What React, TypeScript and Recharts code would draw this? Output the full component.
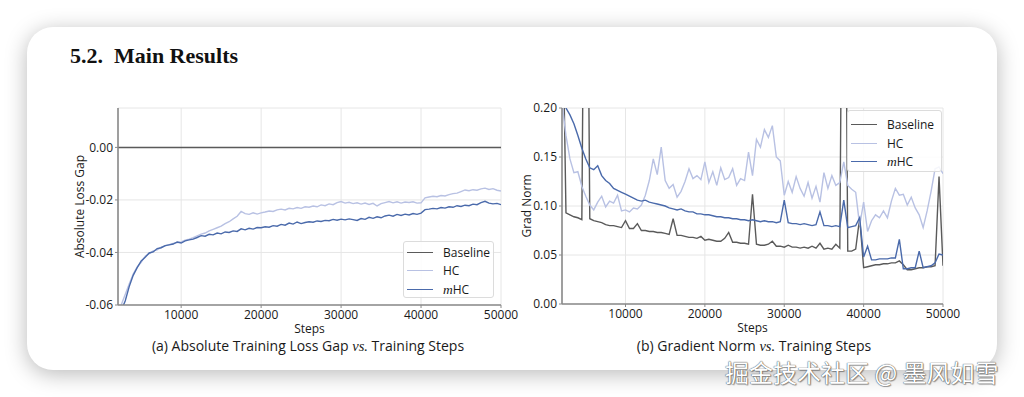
import { CartesianGrid, Line, LineChart, XAxis, YAxis } from "recharts";

// training steps shared by both panels
const steps = [
  2000, 2500, 3000, 3500, 4000, 4500, 5000, 5500, 6000, 6500,
  7000, 7500, 8000, 8500, 9000, 9500, 10000, 10500, 11000, 11500,
  12000, 12500, 13000, 13500, 14000, 14500, 15000, 15500, 16000, 16500,
  17000, 17500, 18000, 18500, 19000, 19500, 20000, 20500, 21000, 21500,
  22000, 22500, 23000, 23500, 24000, 24500, 25000, 25500, 26000, 26500,
  27000, 27500, 28000, 28500, 29000, 29500, 30000, 30500, 31000, 31500,
  32000, 32500, 33000, 33500, 34000, 34500, 35000, 35500, 36000, 36500,
  37000, 37500, 38000, 38500, 39000, 39500, 40000, 40500, 41000, 41500,
  42000, 42500, 43000, 43500, 44000, 44500, 45000, 45500, 46000, 46500,
  47000, 47500, 48000, 48500, 49000, 49500, 50000,
];

// (a) absolute loss gap vs baseline
const lossHC = [
  -0.07, -0.06, -0.056, -0.052, -0.0482, -0.0455, -0.0438, -0.0414, -0.0405, -0.0394,
  -0.039, -0.038, -0.0375, -0.037, -0.0366, -0.0362, -0.036, -0.0353, -0.0349, -0.0344,
  -0.0337, -0.033, -0.0326, -0.0318, -0.0312, -0.0306, -0.03, -0.029, -0.0283, -0.0272,
  -0.0262, -0.0244, -0.0252, -0.0255, -0.0249, -0.0254, -0.0249, -0.0246, -0.0242, -0.0244,
  -0.0238, -0.0235, -0.0238, -0.0232, -0.0234, -0.0229, -0.0232, -0.0226, -0.0228, -0.0223,
  -0.0226, -0.0219, -0.0222, -0.0215, -0.0218, -0.021, -0.0206, -0.0212, -0.0209, -0.0214,
  -0.0211, -0.0216, -0.0212, -0.0217, -0.0213, -0.0223, -0.0214, -0.021, -0.0206, -0.0211,
  -0.0207, -0.0212, -0.0208, -0.021, -0.0207, -0.0212, -0.0211, -0.0192, -0.0189, -0.0186,
  -0.0188, -0.0183, -0.0185, -0.018, -0.0176, -0.0174, -0.0168, -0.0162, -0.0165, -0.0161,
  -0.0163, -0.0158, -0.0155, -0.016, -0.0157, -0.0163, -0.0166,
];
const lossMHC = [
  -0.072, -0.062, -0.0585, -0.053, -0.0487, -0.0458, -0.0432, -0.0418, -0.0402, -0.0398,
  -0.0385, -0.0382, -0.0374, -0.0371, -0.0368, -0.036, -0.0364, -0.0356, -0.0352, -0.0349,
  -0.0343, -0.0336, -0.0338, -0.0331, -0.0333, -0.0326, -0.0329, -0.0322, -0.0324, -0.0318,
  -0.032, -0.031, -0.0314, -0.0308, -0.0311, -0.0305, -0.0306, -0.0302, -0.0304, -0.0298,
  -0.03, -0.0293, -0.0296, -0.0288, -0.0292, -0.0284, -0.029, -0.0286, -0.0283, -0.0285,
  -0.028, -0.0282, -0.0278, -0.0279, -0.0274, -0.0277, -0.0273, -0.0276, -0.0272, -0.0275,
  -0.0278, -0.0271, -0.0274, -0.0266, -0.027, -0.0264, -0.0268, -0.0261, -0.0258, -0.0262,
  -0.0255, -0.0259, -0.0254, -0.0257, -0.0252, -0.0255, -0.025, -0.0237, -0.0235, -0.0232,
  -0.0234, -0.0229, -0.0231, -0.0226, -0.0228, -0.0222, -0.0225, -0.022, -0.0222, -0.0216,
  -0.0218, -0.021, -0.0205, -0.0212, -0.0215, -0.0213, -0.0218,
];
const lossBaselineSteps = [2000, 50000];
const lossBaseline = [0, 0];
const lossTicks = [-0.06, -0.04, -0.02, 0];

// (b) gradient norm
const gradBaseline = [
  0.35, 0.093, 0.091, 0.089, 0.088, 0.086, 0.62, 0.087, 0.085, 0.084,
  0.083, 0.081, 0.08, 0.08, 0.079, 0.078, 0.085, 0.077, 0.077, 0.082,
  0.075, 0.075, 0.074, 0.074, 0.073, 0.073, 0.072, 0.071, 0.087, 0.07,
  0.07, 0.069, 0.068, 0.068, 0.067, 0.069, 0.065, 0.066, 0.065, 0.064,
  0.064, 0.067, 0.073, 0.063, 0.063, 0.062, 0.062, 0.061, 0.112, 0.061,
  0.06, 0.06, 0.061, 0.064, 0.059, 0.059, 0.058, 0.06, 0.058, 0.058,
  0.057, 0.058, 0.057, 0.059, 0.057, 0.062, 0.056, 0.057, 0.056, 0.061,
  0.057, 0.62, 0.054, 0.054, 0.056, 0.088, 0.037, 0.038, 0.039, 0.04,
  0.04, 0.041, 0.041, 0.042, 0.042, 0.044, 0.04, 0.035, 0.035, 0.036,
  0.037, 0.037, 0.038, 0.038, 0.039, 0.13, 0.039,
];
const gradHC = [
  0.205, 0.172, 0.148, 0.134, 0.135, 0.12, 0.11, 0.101, 0.096, 0.104,
  0.11, 0.099, 0.105, 0.103, 0.111, 0.095, 0.096, 0.094, 0.098, 0.097,
  0.101, 0.111, 0.126, 0.148, 0.132, 0.16, 0.126, 0.118, 0.122, 0.109,
  0.115, 0.125, 0.138, 0.128, 0.131, 0.127, 0.145, 0.124, 0.135, 0.121,
  0.139, 0.127, 0.129, 0.138, 0.121, 0.128, 0.126, 0.155, 0.131, 0.168,
  0.16, 0.178, 0.17, 0.182, 0.15, 0.146, 0.111, 0.125, 0.114, 0.13,
  0.118, 0.11, 0.124, 0.108, 0.12, 0.104, 0.134, 0.118, 0.131, 0.121,
  0.124, 0.145, 0.121, 0.117, 0.114, 0.08, 0.104, 0.074, 0.085, 0.091,
  0.088, 0.095, 0.088, 0.105, 0.118, 0.111, 0.112, 0.101, 0.109, 0.098,
  0.091, 0.078, 0.095, 0.115, 0.138, 0.14, 0.133,
];
const gradMHC = [
  0.215, 0.2, 0.193, 0.184, 0.172, 0.159, 0.148, 0.139, 0.137, 0.141,
  0.131, 0.126, 0.123, 0.118, 0.116, 0.114, 0.112, 0.11, 0.108, 0.106,
  0.105, 0.106, 0.104, 0.103, 0.102, 0.101, 0.1, 0.098, 0.097, 0.096,
  0.097, 0.095, 0.094, 0.094, 0.092, 0.092, 0.091, 0.091, 0.09, 0.089,
  0.089, 0.088, 0.088, 0.087, 0.087, 0.086, 0.086, 0.085, 0.086, 0.085,
  0.084, 0.085, 0.084, 0.084, 0.083, 0.084, 0.106, 0.083, 0.082, 0.082,
  0.081, 0.082, 0.081, 0.08, 0.081, 0.094, 0.08, 0.08, 0.079, 0.08,
  0.079, 0.106, 0.078, 0.079, 0.08, 0.088, 0.048, 0.059, 0.045, 0.045,
  0.046, 0.046, 0.046, 0.047, 0.047, 0.066, 0.036, 0.036, 0.037, 0.037,
  0.054, 0.037, 0.038, 0.039, 0.042, 0.051, 0.05,
];
const gradTicks = [0, 0.05, 0.1, 0.15, 0.2];
const stepTicks = [10000, 20000, 30000, 40000, 50000];

const COLORS = { baseline: "#5a5a5a", hc: "#b8c1e3", mhc: "#4a6aab" };
const FONT = "'Open Sans', 'DejaVu Sans', sans-serif";
const FRAME = { stroke: "#8a8a8a", strokeWidth: 1.6 };
const TICK = { fill: "#1a1a1a", fontSize: 12, fontFamily: FONT };
const AXIS_LABEL = { fill: "#1a1a1a", fontSize: 12, fontFamily: FONT };

const lossData = steps.map((step, i) => ({ step, hc: lossHC[i], mhc: lossMHC[i] }));
const lossBaseData = lossBaselineSteps.map((step, i) => ({ step, baseline: lossBaseline[i] }));
const gradData = steps.map((step, i) => ({
  step,
  baseline: gradBaseline[i],
  hc: gradHC[i],
  mhc: gradMHC[i],
}));

const fmt2 = (v: number) => v.toFixed(2);

const legendItems = [
  { key: "baseline", color: COLORS.baseline, label: <>Baseline</> },
  { key: "hc", color: COLORS.hc, label: <>HC</> },
  {
    key: "mhc",
    color: COLORS.mhc,
    label: (
      <>
        <span style={{ fontFamily: "'Liberation Serif', serif", fontStyle: "italic", fontSize: 13.5 }}>m</span>
        HC
      </>
    ),
  },
];

function LegendBox({ left, top, width, height, padTop }: { left: number; top: number; width: number; height: number; padTop: number }) {
  return (
    <div
      style={{
        position: "absolute",
        left,
        top,
        width,
        height,
        boxSizing: "border-box",
        border: "1px solid #dcdcdc",
        borderRadius: 3,
        background: "rgba(255,255,255,0.85)",
        paddingTop: padTop,
        paddingLeft: 3,
        fontFamily: FONT,
        fontSize: 12,
        color: "#1a1a1a",
      }}
    >
      {legendItems.map((it) => (
        <div key={it.key} style={{ display: "flex", alignItems: "center", height: 18.5 }}>
          <span style={{ width: 26, borderTop: `1.5px solid ${it.color}`, marginRight: 10 }} />
          <span>{it.label}</span>
        </div>
      ))}
    </div>
  );
}

function Caption({ left, children }: { left: number; children: React.ReactNode }) {
  return (
    <div
      style={{
        position: "absolute",
        left,
        top: 338,
        width: 400,
        textAlign: "center",
        fontFamily: FONT,
        fontSize: 14,
        color: "#1a1a1a",
        lineHeight: "16px",
      }}
    >
      {children}
    </div>
  );
}

const vs = (
  <span style={{ fontFamily: "'Liberation Serif', serif", fontStyle: "italic", fontSize: 14.5 }}>vs.</span>
);

function LossChart() {
  return (
    <LineChart width={460} height={245} data={lossData} margin={{ top: 8, right: 19, bottom: 0, left: 0 }}>
      <CartesianGrid stroke="#e6e6e6" strokeWidth={1} />
      <XAxis
        dataKey="step"
        type="number"
        domain={[2100, 50000]}
        allowDataOverflow
        ticks={stepTicks}
        tick={TICK}
        tickSize={3}
        tickMargin={2}
        tickLine={{ stroke: "#8a8a8a" }}
        axisLine={FRAME}
        height={40}
        label={{ value: "Steps", position: "insideBottom", offset: 12, ...AXIS_LABEL }}
      />
      <XAxis xAxisId="top" orientation="top" type="number" domain={[2100, 50000]} tick={false} tickLine={false} axisLine={FRAME} height={0} />
      <YAxis
        type="number"
        domain={[-0.06, 0.015]}
        allowDataOverflow
        ticks={lossTicks}
        tickFormatter={fmt2}
        tick={TICK}
        tickSize={3}
        tickMargin={2}
        tickLine={{ stroke: "#8a8a8a" }}
        axisLine={FRAME}
        width={58}
        label={{
          value: "Absolute Loss Gap",
          angle: -90,
          position: "insideLeft",
          offset: 20,
          ...AXIS_LABEL,
          style: { textAnchor: "middle" },
        }}
      />
      <YAxis yAxisId="right" orientation="right" type="number" domain={[-0.06, 0.015]} tick={false} tickLine={false} axisLine={FRAME} width={0} />
      <Line data={lossBaseData} dataKey="baseline" stroke={COLORS.baseline} strokeWidth={1.5} dot={false} isAnimationActive={false} />
      <Line dataKey="hc" stroke={COLORS.hc} strokeWidth={1.4} dot={false} isAnimationActive={false} />
      <Line dataKey="mhc" stroke={COLORS.mhc} strokeWidth={1.4} dot={false} isAnimationActive={false} />
    </LineChart>
  );
}

function GradChart() {
  return (
    <LineChart width={460} height={244} data={gradData} margin={{ top: 8, right: 19, bottom: 0, left: 0 }}>
      <CartesianGrid stroke="#e6e6e6" strokeWidth={1} />
      <XAxis
        dataKey="step"
        type="number"
        domain={[2000, 50000]}
        allowDataOverflow
        ticks={stepTicks}
        tick={TICK}
        tickSize={3}
        tickMargin={2}
        tickLine={{ stroke: "#8a8a8a" }}
        axisLine={FRAME}
        height={40}
        label={{ value: "Steps", position: "insideBottom", offset: 12, ...AXIS_LABEL }}
      />
      <XAxis xAxisId="top" orientation="top" type="number" domain={[2000, 50000]} tick={false} tickLine={false} axisLine={FRAME} height={0} />
      <YAxis
        type="number"
        domain={[0, 0.2]}
        allowDataOverflow
        ticks={gradTicks}
        tickFormatter={fmt2}
        tick={TICK}
        tickSize={3}
        tickMargin={2}
        tickLine={{ stroke: "#8a8a8a" }}
        axisLine={FRAME}
        width={60}
        label={{
          value: "Grad Norm",
          angle: -90,
          position: "insideLeft",
          offset: 25,
          ...AXIS_LABEL,
          style: { textAnchor: "middle" },
        }}
      />
      <YAxis yAxisId="right" orientation="right" type="number" domain={[0, 0.2]} tick={false} tickLine={false} axisLine={FRAME} width={0} />
      <Line dataKey="baseline" stroke={COLORS.baseline} strokeWidth={1.4} dot={false} isAnimationActive={false} />
      <Line dataKey="hc" stroke={COLORS.hc} strokeWidth={1.4} dot={false} isAnimationActive={false} />
      <Line dataKey="mhc" stroke={COLORS.mhc} strokeWidth={1.4} dot={false} isAnimationActive={false} />
    </LineChart>
  );
}

export default function App() {
  return (
    <div style={{ position: "relative", width: 1024, height: 397, background: "#fff", overflow: "hidden" }}>
      <style>{"body{margin:0}"}</style>
      <div
        style={{
          position: "absolute",
          left: 27,
          top: 27,
          width: 970,
          height: 343,
          borderRadius: 26,
          background: "#fff",
          boxShadow: "0 4px 22px rgba(0,0,0,0.28)",
        }}
      />
      <div
        style={{
          position: "absolute",
          left: 70,
          top: 45,
          fontFamily: "'Liberation Serif', serif",
          fontWeight: 700,
          fontSize: 22,
          lineHeight: "22px",
          color: "#111",
          whiteSpace: "pre",
        }}
      >
        {"5.2.  Main Results"}
      </div>
      <div style={{ position: "absolute", left: 60, top: 100 }}>
        <LossChart />
      </div>
      <div style={{ position: "absolute", left: 502, top: 100 }}>
        <GradChart />
      </div>
      <LegendBox left={403} top={241} width={91} height={57} padTop={1} />
      <LegendBox left={847} top={110} width={95} height={62} padTop={4.5} />
      <Caption left={108}>(a) Absolute Training Loss Gap {vs} Training Steps</Caption>
      <Caption left={554}>(b) Gradient Norm {vs} Training Steps</Caption>
      <div
        style={{
          position: "absolute",
          left: 725,
          top: 359,
          fontFamily: "'Noto Sans CJK SC', sans-serif",
          fontSize: 24,
          lineHeight: "26px",
          color: "#fff",
          whiteSpace: "pre",
          textShadow: "0 0 1px #555, 0 0 1px #555, 1px 1px 1px rgba(0,0,0,0.35)",
        }}
      >
        掘金技术社区 @ 墨风如雪
      </div>
    </div>
  );
}
